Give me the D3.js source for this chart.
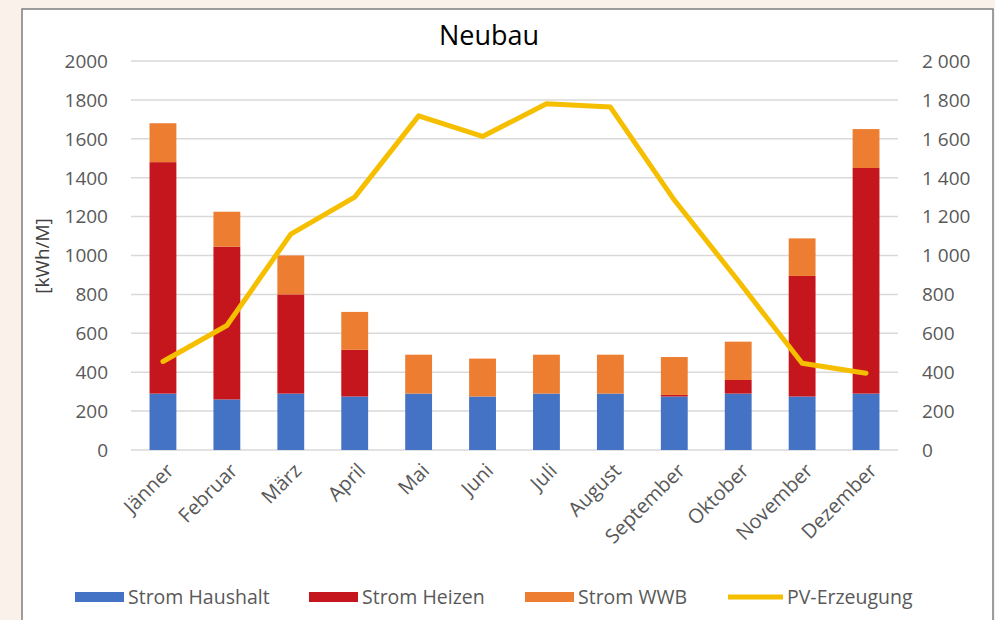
<!DOCTYPE html>
<html>
<head>
<meta charset="utf-8">
<script src="https://cdn.jsdelivr.net/npm/d3@7"></script>
<style>
  body { margin: 0; background: #fbf1eb; }
  svg text { font-family: "Open Sans", "Noto Sans", sans-serif; }
</style>
</head>
<body>
<div id="chart"></div>
<script>
// months and series
var months = ["Jänner", "Februar", "März", "April", "Mai", "Juni", "Juli", "August", "September", "Oktober", "November", "Dezember"];
var haushalt = [290, 260, 290, 275, 290, 275, 290, 290, 275, 290, 275, 290];
var heizen   = [1190, 785, 510, 240, 0, 0, 0, 0, 8, 70, 620, 1160];
var wwb      = [200, 180, 200, 195, 200, 195, 200, 200, 195, 197, 193, 200];
var pv       = [455, 640, 1110, 1300, 1718, 1612, 1780, 1763, 1285, 870, 446, 395];
var yTicks   = [0, 200, 400, 600, 800, 1000, 1200, 1400, 1600, 1800, 2000];
var seriesNames = ["Strom Haushalt", "Strom Heizen", "Strom WWB", "PV-Erzeugung"];
var colors = ["#4472c4", "#c5161d", "#ed7d31", "#f5bf00"];

var W = 995, H = 620;
var svg = d3.select("#chart").append("svg")
    .attr("width", W).attr("height", H);

// chart frame
svg.append("rect")
    .attr("x", 22).attr("y", 9)
    .attr("width", 971).attr("height", 640)
    .attr("fill", "#ffffff")
    .attr("stroke", "#7f7f7f").attr("stroke-width", 1.5);

var x = d3.scaleBand().domain(months).range([131, 898])
    .paddingInner(0.58).paddingOuter(0.29);
var y = d3.scaleLinear().domain([0, 2000]).range([450, 61]);

// gridlines
svg.append("g").selectAll("line")
    .data(yTicks).enter().append("line")
    .attr("x1", 131).attr("x2", 898)
    .attr("y1", d => y(d)).attr("y2", d => y(d))
    .attr("stroke", "#d9d9d9").attr("stroke-width", 1.5);

// left axis labels
svg.append("g").selectAll("text")
    .data(yTicks).enter().append("text")
    .attr("x", 108).attr("y", d => y(d))
    .attr("dy", "0.36em")
    .attr("text-anchor", "end")
    .attr("font-size", 19).attr("fill", "#595959")
    .text(d => d);

// right axis labels, with space as thousands separator
var fmt = d3.formatLocale({ decimal: ",", thousands: " ", grouping: [3], currency: ["", ""] }).format(",");
svg.append("g").selectAll("text")
    .data(yTicks).enter().append("text")
    .attr("x", 922).attr("y", d => y(d))
    .attr("dy", "0.36em")
    .attr("font-size", 19).attr("fill", "#595959")
    .text(d => fmt(d));

// stacked bars
var rows = months.map((m, i) => ({ month: m, haushalt: haushalt[i], heizen: heizen[i], wwb: wwb[i] }));
var stack = d3.stack().keys(["haushalt", "heizen", "wwb"])(rows);

svg.append("g").selectAll("g")
    .data(stack).enter().append("g")
    .attr("fill", (d, i) => colors[i])
    .selectAll("rect")
    .data(d => d).enter().append("rect")
    .attr("x", d => x(d.data.month))
    .attr("width", x.bandwidth())
    .attr("y", d => y(d[1]))
    .attr("height", d => y(d[0]) - y(d[1]));

// PV line
var line = d3.line()
    .x((d, i) => x(months[i]) + x.bandwidth() / 2)
    .y(d => y(d));
svg.append("path")
    .datum(pv)
    .attr("d", line)
    .attr("fill", "none")
    .attr("stroke", colors[3])
    .attr("stroke-width", 5)
    .attr("stroke-linejoin", "round")
    .attr("stroke-linecap", "round");

// month labels, rotated
svg.append("g").selectAll("text")
    .data(months).enter().append("text")
    .attr("transform", d => "translate(" + (x(d) + x.bandwidth() / 2 + 7) + ",467) rotate(-45)")
    .attr("text-anchor", "end")
    .attr("dy", "0.35em")
    .attr("font-size", 20).attr("fill", "#595959")
    .text(d => d);

// title
svg.append("text")
    .attr("x", 489).attr("y", 45)
    .attr("text-anchor", "middle")
    .attr("font-size", 27).attr("fill", "#000")
    .text("Neubau");

// y axis title
svg.append("text")
    .attr("transform", "translate(42,256) rotate(-90)")
    .attr("text-anchor", "middle")
    .attr("dy", "0.35em")
    .attr("font-size", 19).attr("fill", "#404040")
    .text("[kWh/M]");

// legend
var legendX = [75, 309, 525, 728];
var lg = svg.append("g").selectAll("g")
    .data(seriesNames).enter().append("g")
    .attr("transform", (d, i) => "translate(" + legendX[i] + ",597)");
lg.filter((d, i) => i < 3).append("rect")
    .attr("x", 0).attr("y", -5).attr("width", 49).attr("height", 10)
    .attr("fill", (d, i) => colors[i]);
lg.filter((d, i) => i === 3).append("line")
    .attr("x1", 0).attr("x2", 55)
    .attr("stroke", colors[3]).attr("stroke-width", 5);
lg.append("text")
    .attr("x", (d, i) => i === 3 ? 59 : 53)
    .attr("dy", "0.35em")
    .attr("font-size", 19.5).attr("fill", "#595959")
    .text(d => d);
</script>
</body>
</html>
